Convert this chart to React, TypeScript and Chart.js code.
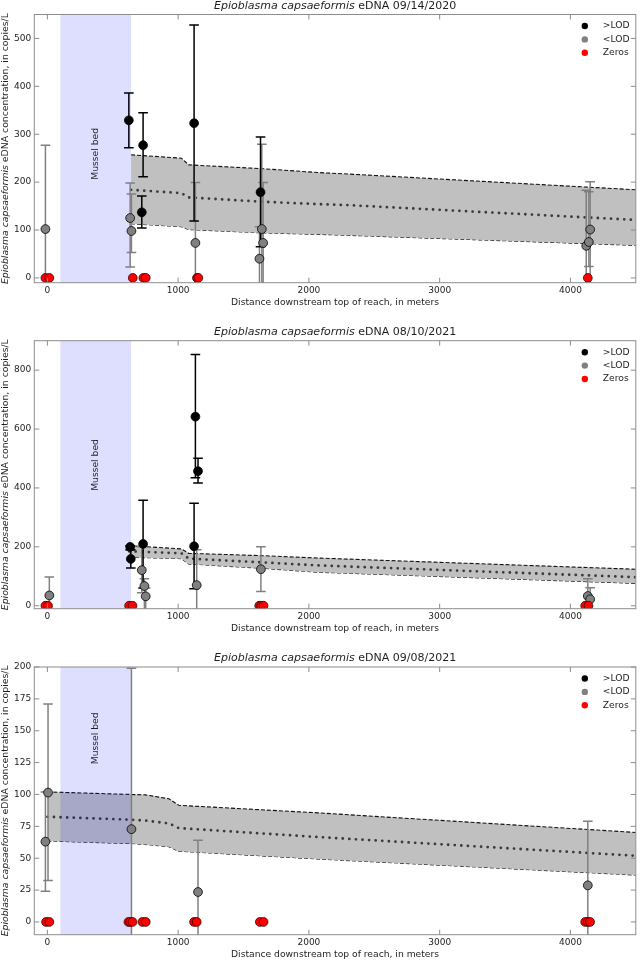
import React, { useEffect, useRef } from 'react';
import { Chart, registerables } from 'chart.js';

Chart.register(...registerables);

const FONT = '"DejaVu Sans", "Liberation Sans", sans-serif';
const SPECIES = 'Epioblasma capsaeformis';
const Y_TITLE_REST = ' eDNA concentration, in copies/L';
const X_TITLE = 'Distance downstream top of reach, in meters';
const MUSSEL_LABEL = 'Mussel bed';
const LEGEND_LABELS = ['>LOD', '<LOD', 'Zeros'];

const xTicks = [0, 1000, 2000, 3000, 4000];
const musselBed = [100, 640];

// ---------- Panel 1: 09/14/2020 ----------
const p1Title = ' eDNA 09/14/2020';
const p1YTicks = [0, 100, 200, 300, 400, 500];
const p1AboveX = [623, 722, 732, 1122, 1630];
const p1AboveY = [329, 137, 277, 323, 179];
const p1AboveLo = [272, 104, 211, 119, 65];
const p1AboveHi = [386, 171, 345, 528, 294];
const p1BelowX = [-15, 633, 643, 1132, 1622, 1640, 1650, 4121, 4141, 4151];
const p1BelowY = [102, 125, 98, 73, 40, 102, 73, 67, 75, 101];
const p1BelowLo = [-20, 23, 53, -20, -20, -20, -20, -20, 24, -20];
const p1BelowHi = [277, 198, 175, 199, 107, 279, 199, 183, 180, 201];
const p1ZeroX = [-15, 15, 653, 734, 752, 1144, 1154, 4133];
const p1BandX = [640, 1025, 1081, 1650, 2068, 2297, 4500];
const p1Upper = [257, 250, 236, 228, 220, 217, 184];
const p1Center = [184, 177, 168, 159, 154, 152, 121];
const p1Lower = [113, 107, 101, 94, 91, 89, 68];

// ---------- Panel 2: 08/10/2021 ----------
const p2Title = ' eDNA 08/10/2021';
const p2YTicks = [0, 200, 400, 600, 800];
const p2AboveX = [633, 638, 732, 1122, 1132, 1152];
const p2AboveY = [200, 159, 210, 202, 642, 457];
const p2AboveLo = [190, 128, 60, 58, 435, 417];
const p2AboveHi = [204, 190, 358, 348, 853, 501];
const p2BelowX = [15, 722, 742, 752, 1142, 1633, 4133, 4151];
const p2BelowY = [35, 121, 67, 32, 70, 124, 33, 22];
const p2BelowLo = [-20, 44, -20, -20, -20, 48, -20, -20];
const p2BelowHi = [98, 200, 92, 60, 190, 200, 92, 61];
const p2ZeroX = [-15, 5, 625, 651, 1620, 1635, 1653, 4113, 4138];
const p2BandX = [625, 1025, 1081, 1650, 2068, 4500];
const p2Upper = [204, 193, 178, 170, 162, 124];
const p2Center = [185, 178, 160, 147, 137, 97];
const p2Lower = [165, 160, 142, 127, 114, 76];

// ---------- Panel 3: 09/08/2021 ----------
const p3Title = ' eDNA 09/08/2021';
const p3YTicks = [0, 25, 50, 75, 100, 125, 150, 175, 200];
const p3AboveX: number[] = [];
const p3AboveY: number[] = [];
const p3AboveLo: number[] = [];
const p3AboveHi: number[] = [];
const p3BelowX = [-15, 5, 643, 1152, 4133];
const p3BelowY = [63, 101.5, 72.8, 23.5, 28.7];
const p3BelowLo = [24, 32.5, -20, -20, -20];
const p3BelowHi = [102, 171, 199, 64, 79];
const p3ZeroX = [-10, 15, 620, 633, 651, 727, 752, 1122, 1142, 1625, 1653, 4113, 4133, 4150];
const p3BandX = [0, 640, 750, 930, 1005, 2068, 4500];
const p3Upper = [102, 100, 99.7, 96.6, 91.5, 85.6, 70.2];
const p3Center = [82.5, 80.2, 79.5, 77.3, 73.6, 66.6, 51.9];
const p3Lower = [63.5, 61.5, 60.8, 59, 55.5, 49.4, 36.8];

type PanelCfg = {
  title: string;
  yMin: number;
  yMax: number;
  yTicks: number[];
  aboveX: number[]; aboveY: number[]; aboveLo: number[]; aboveHi: number[];
  belowX: number[]; belowY: number[]; belowLo: number[]; belowHi: number[];
  zeroX: number[];
  bandX: number[]; upper: number[]; center: number[]; lower: number[];
  labelY: number;
  top: number;
  height: number;
  padTop: number;
};

const PLOT_BOTTOM = 282.7;
const PLOT_LEFT = 34.3;
const PLOT_RIGHT_PAD = 1.7;

const panels: PanelCfg[] = [
  {
    title: p1Title, yMin: -10, yMax: 550, yTicks: p1YTicks,
    aboveX: p1AboveX, aboveY: p1AboveY, aboveLo: p1AboveLo, aboveHi: p1AboveHi,
    belowX: p1BelowX, belowY: p1BelowY, belowLo: p1BelowLo, belowHi: p1BelowHi,
    zeroX: p1ZeroX, bandX: p1BandX, upper: p1Upper, center: p1Center, lower: p1Lower,
    labelY: 259, top: 0, height: 326, padTop: 14.5,
  },
  {
    title: p2Title, yMin: -10, yMax: 900, yTicks: p2YTicks,
    aboveX: p2AboveX, aboveY: p2AboveY, aboveLo: p2AboveLo, aboveHi: p2AboveHi,
    belowX: p2BelowX, belowY: p2BelowY, belowLo: p2BelowLo, belowHi: p2BelowHi,
    zeroX: p2ZeroX, bandX: p2BandX, upper: p2Upper, center: p2Center, lower: p2Lower,
    labelY: 478, top: 326, height: 326, padTop: 14.7,
  },
  {
    title: p3Title, yMin: -10, yMax: 200, yTicks: p3YTicks,
    aboveX: p3AboveX, aboveY: p3AboveY, aboveLo: p3AboveLo, aboveHi: p3AboveHi,
    belowX: p3BelowX, belowY: p3BelowY, belowLo: p3BelowLo, belowHi: p3BelowHi,
    zeroX: p3ZeroX, bandX: p3BandX, upper: p3Upper, center: p3Center, lower: p3Lower,
    labelY: 144, top: 652, height: 308, padTop: 15,
  },
];

const GRAY = '#808080';
const TEXT = '#1e1e1e';
const FRAME = '#8c8c8c';

function drawMixed(ctx: CanvasRenderingContext2D, italic: string, normal: string, size: number, cx: number, cy: number) {
  ctx.font = `italic ${size}px ${FONT}`;
  const w1 = ctx.measureText(italic).width;
  ctx.font = `${size}px ${FONT}`;
  const w2 = ctx.measureText(normal).width;
  const start = cx - (w1 + w2) / 2;
  ctx.textAlign = 'left';
  ctx.textBaseline = 'middle';
  ctx.font = `italic ${size}px ${FONT}`;
  ctx.fillText(italic, start, cy);
  ctx.font = `${size}px ${FONT}`;
  ctx.fillText(normal, start + w1, cy);
}

function Panel({ cfg }: { cfg: PanelCfg }) {
  const ref = useRef<HTMLCanvasElement | null>(null);
  useEffect(() => {
    const canvas = ref.current;
    if (!canvas) return;
    const pts = (xs: number[], ys: number[]) => xs.map((x, i) => ({ x, y: ys[i] }));

    const decor = {
      id: 'decor',
      afterDatasetDraw(chart: any, args: any) {
        if (args.index !== 2) return;
        const { ctx, chartArea: a, scales } = chart;
        const xs = scales.x, ys = scales.y;
        ctx.save();
        ctx.beginPath();
        ctx.rect(a.left, a.top, a.right - a.left, a.bottom - a.top);
        ctx.clip();
        // mussel bed band
        const bx0 = xs.getPixelForValue(musselBed[0]);
        const bx1 = xs.getPixelForValue(musselBed[1]);
        ctx.fillStyle = 'rgba(0,0,255,0.13)';
        ctx.fillRect(bx0, a.top, bx1 - bx0, a.bottom - a.top);
        // error bars
        const bars = (X: number[], lo: number[], hi: number[], color: string) => {
          ctx.strokeStyle = color;
          ctx.lineWidth = 1.5;
          X.forEach((x, i) => {
            const px = xs.getPixelForValue(x);
            const pl = ys.getPixelForValue(lo[i]);
            const ph = ys.getPixelForValue(hi[i]);
            ctx.beginPath();
            ctx.moveTo(px, pl);
            ctx.lineTo(px, ph);
            ctx.moveTo(px - 4.8, ph);
            ctx.lineTo(px + 4.8, ph);
            ctx.moveTo(px - 4.8, pl);
            ctx.lineTo(px + 4.8, pl);
            ctx.stroke();
          });
        };
        bars(cfg.belowX, cfg.belowLo, cfg.belowHi, GRAY);
        bars(cfg.aboveX, cfg.aboveLo, cfg.aboveHi, '#000');
        ctx.restore();
      },
      afterDraw(chart: any) {
        const { ctx, chartArea: a, scales } = chart;
        const xs = scales.x, ys = scales.y;
        ctx.save();
        // frame
        ctx.strokeStyle = FRAME;
        ctx.lineWidth = 1;
        ctx.strokeRect(a.left, a.top, a.right - a.left, a.bottom - a.top);
        // inward ticks
        const TL = 5;
        ctx.beginPath();
        xTicks.forEach((v) => {
          const px = xs.getPixelForValue(v);
          ctx.moveTo(px, a.bottom);
          ctx.lineTo(px, a.bottom - TL);
          ctx.moveTo(px, a.top);
          ctx.lineTo(px, a.top + TL);
        });
        cfg.yTicks.forEach((v) => {
          const py = ys.getPixelForValue(v);
          ctx.moveTo(a.left, py);
          ctx.lineTo(a.left + TL, py);
          ctx.moveTo(a.right, py);
          ctx.lineTo(a.right - TL, py);
        });
        ctx.stroke();
        ctx.fillStyle = TEXT;
        // title
        drawMixed(ctx, SPECIES, cfg.title, 11, (a.left + a.right) / 2, a.top - 8.5);
        // x title
        ctx.font = `9.2px ${FONT}`;
        ctx.textAlign = 'center';
        ctx.textBaseline = 'middle';
        ctx.fillText(X_TITLE, (a.left + a.right) / 2, a.bottom + 19.5);
        // y title
        ctx.save();
        ctx.translate(6, (a.top + a.bottom) / 2);
        ctx.rotate(-Math.PI / 2);
        drawMixed(ctx, SPECIES, Y_TITLE_REST, 9.3, 0, 0);
        ctx.restore();
        // mussel label
        ctx.save();
        ctx.translate(xs.getPixelForValue((musselBed[0] + musselBed[1]) / 2), ys.getPixelForValue(cfg.labelY));
        ctx.rotate(-Math.PI / 2);
        ctx.font = `9.2px ${FONT}`;
        ctx.fillStyle = TEXT;
        ctx.textAlign = 'center';
        ctx.textBaseline = 'middle';
        ctx.fillText(MUSSEL_LABEL, 0, 0);
        ctx.restore();
        // legend
        const colors = ['#000', GRAY, '#ff0000'];
        LEGEND_LABELS.forEach((lab, i) => {
          const y = a.top + 11.5 + i * 13.4;
          ctx.beginPath();
          ctx.fillStyle = colors[i];
          ctx.arc(a.right - 51, y, 3.2, 0, Math.PI * 2);
          ctx.fill();
          ctx.fillStyle = TEXT;
          ctx.font = `9.2px ${FONT}`;
          ctx.textAlign = 'left';
          ctx.textBaseline = 'middle';
          ctx.fillText(lab, a.right - 33, y);
        });
        ctx.restore();
      },
    };

    const tickFont = { family: FONT, size: 9 };
    const chart = new Chart(canvas, {
      type: 'scatter',
      data: {
        datasets: [
          {
            data: pts(cfg.bandX, cfg.lower),
            showLine: true, pointRadius: 0, borderColor: '#111', borderWidth: 1.1,
            borderDash: [4, 2], fill: false, order: 10,
          },
          {
            data: pts(cfg.bandX, cfg.upper),
            showLine: true, pointRadius: 0, borderColor: '#111', borderWidth: 1.1,
            borderDash: [4, 2], fill: '-1', backgroundColor: '#c0c0c0', order: 9,
          },
          {
            data: pts(cfg.bandX, cfg.center),
            showLine: true, pointRadius: 0, borderColor: '#3a3a3a', borderWidth: 2.8,
            borderDash: [0, 6.6], borderCapStyle: 'round', fill: false, order: 8,
          },
          {
            data: pts(cfg.belowX, cfg.belowY),
            pointRadius: 4.4, pointBackgroundColor: GRAY, pointBorderColor: '#000', pointBorderWidth: 0.8, order: 3,
          },
          {
            data: pts(cfg.aboveX, cfg.aboveY),
            pointRadius: 4.4, pointBackgroundColor: '#000', pointBorderColor: '#000', pointBorderWidth: 0.8, order: 2,
          },
          {
            data: pts(cfg.zeroX, cfg.zeroX.map(() => 0)),
            pointRadius: 4.4, pointBackgroundColor: '#ff0000', pointBorderColor: '#3a0000', pointBorderWidth: 0.8, order: 1,
          },
        ] as any,
      },
      options: {
        animation: false,
        responsive: false,
        events: [],
        layout: { padding: { top: cfg.padTop, left: 0, right: PLOT_RIGHT_PAD, bottom: 0 } },
        plugins: { legend: { display: false }, tooltip: { enabled: false }, title: { display: false } },
        scales: {
          x: {
            type: 'linear', min: -100, max: 4500,
            grid: { display: false, drawTicks: false }, border: { display: false },
            ticks: { font: tickFont, color: TEXT, padding: 3, maxRotation: 0, callback: (v: any) => String(v) },
            afterBuildTicks: (s: any) => { s.ticks = xTicks.map((v) => ({ value: v })); },
            afterFit: (s: any) => { s.height = cfg.height - PLOT_BOTTOM; },
          },
          y: {
            type: 'linear', min: cfg.yMin, max: cfg.yMax,
            grid: { display: false, drawTicks: false }, border: { display: false },
            ticks: { font: tickFont, color: TEXT, padding: 3, callback: (v: any) => String(v) },
            afterBuildTicks: (s: any) => { s.ticks = cfg.yTicks.map((v) => ({ value: v })); },
            afterFit: (s: any) => { s.width = PLOT_LEFT; },
          },
        },
      } as any,
      plugins: [decor],
    });
    return () => chart.destroy();
  }, [cfg]);
  return (
    <div style={{ position: 'absolute', left: 0, top: cfg.top, width: 641, height: cfg.height }}>
      <canvas ref={ref} width={641} height={cfg.height} style={{ display: 'block' }} />
    </div>
  );
}

export default function App() {
  return (
    <div style={{ position: 'absolute', left: 0, top: 0, width: 641, height: 960, overflow: 'hidden', background: '#fff' }}>
      {panels.map((p, i) => (
        <Panel key={i} cfg={p} />
      ))}
    </div>
  );
}
